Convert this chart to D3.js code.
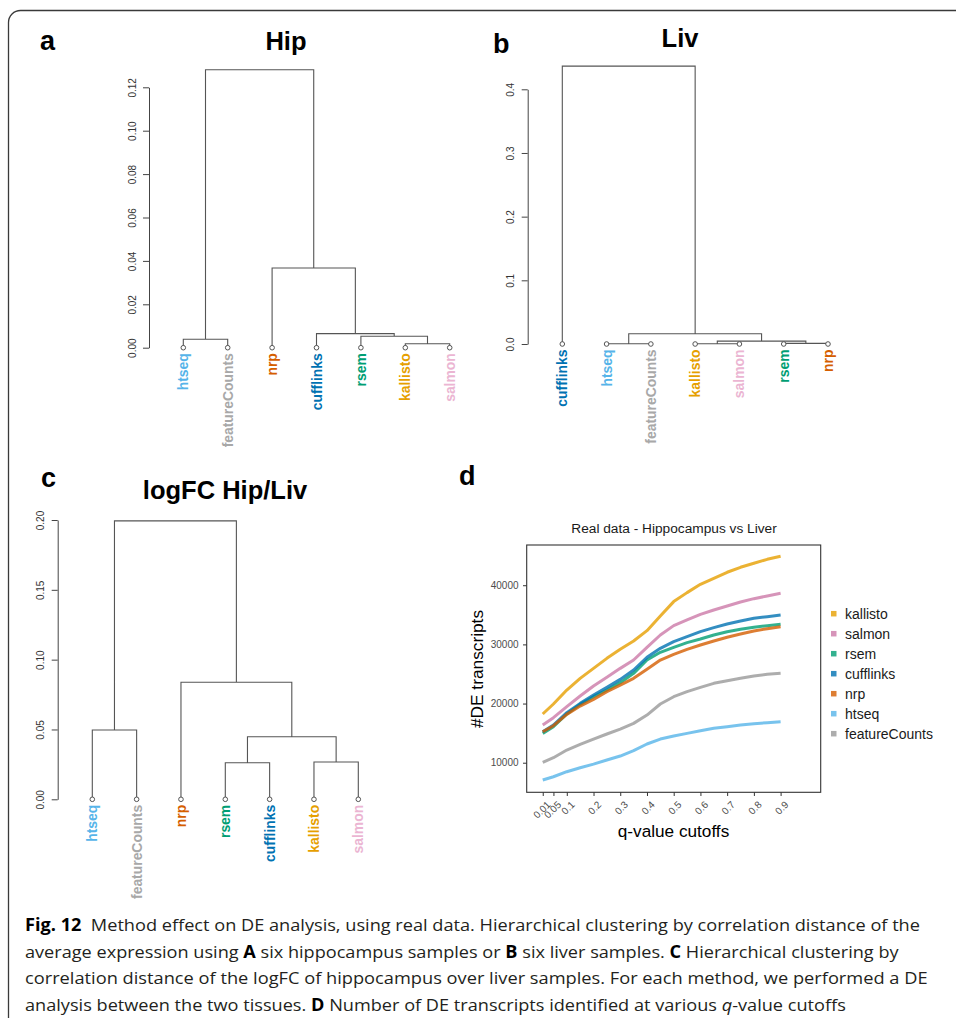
<!DOCTYPE html>
<html>
<head>
<meta charset="utf-8">
<script src="https://cdn.jsdelivr.net/npm/d3@7"></script>
<style>
  body { margin: 0; background: #fff; }
  svg text { font-family: "Liberation Sans", Arial, Helvetica, sans-serif; }
  svg .caption text { font-family: "Open Sans", "Noto Sans", sans-serif; white-space: pre; }
</style>
</head>
<body>
<svg id="fig" width="956" height="1018"></svg>
<script>

// methods, in legend order
var methods = ["kallisto", "salmon", "rsem", "cufflinks", "nrp", "htseq", "featureCounts"];
var lineColors = ["#E69F00", "#CC79A7", "#009E73", "#0072B2", "#D55E00", "#56B4E9", "#999999"];
var labelColors = ["#E69F00", "#EBB5D2", "#009E73", "#0072B2", "#D55E00", "#56B4E9", "#A8A8A8"];

// dendrograms: leaf order + merges [left, right, height]; a number points to an earlier merge
var hipLeaves = ["htseq", "featureCounts", "nrp", "cufflinks", "rsem", "kallisto", "salmon"];
var hipMerges = [
  ["htseq", "featureCounts", 0.0039],
  ["kallisto", "salmon", 0.0018],
  ["rsem", 1, 0.0053],
  ["cufflinks", 2, 0.0065],
  ["nrp", 3, 0.0367],
  [0, 4, 0.1281]
];
var hipTicks = [0, 0.02, 0.04, 0.06, 0.08, 0.10, 0.12];

var livLeaves = ["cufflinks", "htseq", "featureCounts", "kallisto", "salmon", "rsem", "nrp"];
var livMerges = [
  ["htseq", "featureCounts", 0.0004],
  ["kallisto", "salmon", 0.0005],
  ["rsem", "nrp", 0.0010],
  [1, 2, 0.0045],
  [0, 3, 0.0162],
  ["cufflinks", 4, 0.4364]
];
var livTicks = [0, 0.1, 0.2, 0.3, 0.4];

var fcLeaves = ["htseq", "featureCounts", "nrp", "rsem", "cufflinks", "kallisto", "salmon"];
var fcMerges = [
  ["htseq", "featureCounts", 0.0496],
  ["rsem", "cufflinks", 0.0262],
  ["kallisto", "salmon", 0.0267],
  [1, 2, 0.0448],
  ["nrp", 3, 0.0838],
  [0, 4, 0.1994]
];
var fcTicks = [0, 0.05, 0.10, 0.15, 0.20];

// panel d: number of DE transcripts per q-value cutoff
var qValues = [0.01, 0.05, 0.1, 0.15, 0.2, 0.25, 0.3, 0.35, 0.4, 0.45, 0.5, 0.55, 0.6, 0.65, 0.7, 0.75, 0.8, 0.85, 0.9];
var qTicks = [0.01, 0.05, 0.1, 0.2, 0.3, 0.4, 0.5, 0.6, 0.7, 0.8, 0.9];
var deTicks = [10000, 20000, 30000, 40000];

var kallistoDE = [18230, 19920, 22290, 24260, 25950, 27640, 29170, 30580, 32320, 34800, 37230, 38750, 40160, 41170, 42190, 43030, 43710, 44380, 44910];
var salmonDE   = [16370, 17610, 19470, 21270, 22970, 24430, 25950, 27360, 29500, 31590, 33170, 34130, 35080, 35820, 36490, 37170, 37730, 38190, 38640];
var rsemDE     = [14960, 16090, 18230, 19860, 21160, 22290, 23530, 25110, 27360, 28660, 29500, 30290, 30910, 31590, 32150, 32550, 32890, 33170, 33390];
var cuffDE     = [15240, 16370, 18460, 20030, 21440, 22740, 24090, 25670, 27810, 29330, 30460, 31310, 32150, 32830, 33450, 33960, 34410, 34690, 34970];
var nrpDE      = [15240, 16260, 18170, 19580, 20710, 22010, 23130, 24260, 25780, 27360, 28320, 29170, 29900, 30580, 31200, 31760, 32270, 32660, 33000];
var htseqDE    = [7070, 7630, 8480, 9150, 9770, 10450, 11130, 12030, 13160, 14000, 14510, 14960, 15410, 15810, 16090, 16370, 16600, 16760, 16930];
var fcountsDE  = [10060, 10850, 12140, 13100, 14000, 14850, 15690, 16650, 18060, 19920, 21160, 22010, 22740, 23420, 23870, 24260, 24660, 24940, 25110];
var deSeries = [kallistoDE, salmonDE, rsemDE, cuffDE, nrpDE, htseqDE, fcountsDE];

var captionLines = [
  [["Fig. 12", "b"], ["  Method effect on DE analysis, using real data. Hierarchical clustering by correlation distance of the", ""]],
  [["average expression using ", ""], ["A", "b"], [" six hippocampus samples or ", ""], ["B", "b"], [" six liver samples. ", ""], ["C", "b"], [" Hierarchical clustering by", ""]],
  [["correlation distance of the logFC of hippocampus over liver samples. For each method, we performed a DE", ""]],
  [["analysis between the two tissues. ", ""], ["D", "b"], [" Number of DE transcripts identified at various ", ""], ["q", "i"], ["-value cutoffs", ""]]
];


var svg = d3.select("#fig");
var labelColor = d3.scaleOrdinal().domain(methods).range(labelColors);
var lineColor = d3.scaleOrdinal().domain(methods).range(lineColors);

// outer frame (rounded top-left corner)
svg.append("path")
    .attr("d", "M8.5,1018V22.5A12,12 0 0 1 20.5,10.5H956")
    .attr("fill", "none")
    .attr("stroke", "#3a3a3a")
    .attr("stroke-width", 1.3);

function panel_letter(txt, x, y) {
    svg.append("text")
        .attr("x", x).attr("y", y)
        .attr("font-size", 27).attr("font-weight", "bold")
        .text(txt);
}

function draw_dendro(leaves, merges, ticks, p) {

    var x = d3.scaleLinear().domain([0, leaves.length - 1]).range([p.leafX0, p.leafX1]);
    var y = d3.scaleLinear().domain([0, ticks[ticks.length - 1]]).range([p.yBase, p.yTop]);

    var pos = {};
    leaves.forEach(function(d, i) { pos[d] = {x: x(i), h: 0}; });
    var nodes = [];
    var node = function(k) { return typeof k === "number" ? nodes[k] : pos[k]; };

    var path = d3.path();
    merges.forEach(function(m) {
        var a = node(m[0]), b = node(m[1]), h = m[2];
        path.moveTo(a.x, y(a.h)); path.lineTo(a.x, y(h));
        path.lineTo(b.x, y(h)); path.lineTo(b.x, y(b.h));
        nodes.push({x: (a.x + b.x) / 2, h: h});
    });

    var g = svg.append("g");

    g.append("path")
        .attr("d", path.toString())
        .attr("fill", "none")
        .attr("stroke", "#555")
        .attr("stroke-width", 1.1);

    g.selectAll(".leafdot")
        .data(leaves).enter()
        .append("circle")
            .attr("cx", function(d, i) { return x(i); })
            .attr("cy", y(0))
            .attr("r", 2.3)
            .attr("fill", "#fff")
            .attr("stroke", "#555")
            .attr("stroke-width", 1);

    g.selectAll(".leaflabel")
        .data(leaves).enter()
        .append("text")
            .attr("transform", function(d, i) { return "translate(" + x(i) + "," + (y(0) + 5.5) + ") rotate(-90)"; })
            .attr("text-anchor", "end")
            .attr("dy", "0.36em")
            .attr("font-size", 13.9)
            .attr("font-weight", "bold")
            .attr("fill", function(d) { return labelColor(d); })
            .text(function(d) { return d; });

    // y axis, R style: line only between first and last tick
    var y_axis = d3.axisLeft(y).tickValues(ticks).tickFormat(d3.format(p.fmt)).tickSize(6).tickSizeOuter(0);
    var ga = g.append("g")
        .attr("transform", "translate(" + p.axisX + ",0)")
        .call(y_axis);
    ga.selectAll("line, path").attr("stroke", "#444");
    ga.selectAll(".tick text")
        .attr("x", 0).attr("dy", 0)
        .attr("transform", "translate(-13.5,0) rotate(-90)")
        .attr("text-anchor", "middle")
        .attr("font-size", 10)
        .attr("fill", "#333");

    svg.append("text")
        .attr("x", p.titleX).attr("y", p.titleY)
        .attr("text-anchor", "middle")
        .attr("font-size", 25.5).attr("font-weight", "bold")
        .text(p.title);
}

panel_letter("a", 40, 50);
draw_dendro(hipLeaves, hipMerges, hipTicks,
    {leafX0: 183.3, leafX1: 449.7, yBase: 347.7, yTop: 87.3, axisX: 149, fmt: ".2f",
     title: "Hip", titleX: 286, titleY: 49.5});

panel_letter("b", 493, 53);
draw_dendro(livLeaves, livMerges, livTicks,
    {leafX0: 562.3, leafX1: 828, yBase: 344, yTop: 89.3, axisX: 527.7, fmt: ".1f",
     title: "Liv", titleX: 680, titleY: 47});

panel_letter("c", 41, 487);
draw_dendro(fcLeaves, fcMerges, fcTicks,
    {leafX0: 92.3, leafX1: 358.3, yBase: 799.3, yTop: 520, axisX: 57.7, fmt: ".2f",
     title: "logFC Hip/Liv", titleX: 225, titleY: 499});

// ---- panel d: line chart
panel_letter("d", 459, 485);

var xD = d3.scaleLinear().domain([-0.05, 1.05]).range([526.7, 820.7]);
var yD = d3.scaleLinear().domain([5000, 46800]).range([792.3, 545]);

var gd = svg.append("g");

gd.append("text")
    .attr("x", 674).attr("y", 532.5)
    .attr("text-anchor", "middle")
    .attr("font-size", 13.7)
    .attr("fill", "#1a1a1a")
    .text("Real data - Hippocampus vs Liver");

var line = d3.line()
    .x(function(d, i) { return xD(qValues[i]); })
    .y(function(d) { return yD(d); });

gd.selectAll(".deline")
    .data(deSeries).enter()
    .append("path")
        .attr("d", line)
        .attr("fill", "none")
        .attr("stroke", function(d, i) { return lineColor(methods[i]); })
        .attr("stroke-opacity", 0.8)
        .attr("stroke-width", 3)
        .attr("stroke-linejoin", "round");

gd.append("rect")
    .attr("x", xD.range()[0]).attr("y", yD.range()[1])
    .attr("width", xD.range()[1] - xD.range()[0])
    .attr("height", yD.range()[0] - yD.range()[1])
    .attr("fill", "none")
    .attr("stroke", "#333")
    .attr("stroke-width", 1.1);

var yAxisD = d3.axisLeft(yD).tickValues(deTicks).tickFormat(d3.format("d")).tickSize(3.7).tickPadding(4.5).tickSizeOuter(0);
var gy = gd.append("g")
    .attr("transform", "translate(" + xD.range()[0] + ",0)")
    .call(yAxisD);
gy.select(".domain").remove();
gy.selectAll("line").attr("stroke", "#333");
gy.selectAll("text").attr("font-size", 10).attr("fill", "#4D4D4D");

var xAxisD = d3.axisBottom(xD).tickValues(qTicks).tickFormat(function(d) { return String(d); }).tickSize(3.7).tickSizeOuter(0);
var gx = gd.append("g")
    .attr("transform", "translate(0," + yD.range()[0] + ")")
    .call(xAxisD);
gx.select(".domain").remove();
gx.selectAll("line").attr("stroke", "#333");
gx.selectAll("text")
    .attr("y", 0).attr("dy", "0.71em")
    .attr("transform", "translate(3,8) rotate(-45)")
    .attr("text-anchor", "end")
    .attr("font-size", 10)
    .attr("fill", "#4D4D4D");

gd.append("text")
    .attr("x", 673.5).attr("y", 836.5)
    .attr("text-anchor", "middle")
    .attr("font-size", 17.2)
    .text("q-value cutoffs");

gd.append("text")
    .attr("transform", "translate(482.5,669) rotate(-90)")
    .attr("text-anchor", "middle")
    .attr("font-size", 17.3)
    .text("#DE transcripts");

// legend
var legend = gd.selectAll(".legend")
    .data(methods).enter()
    .append("g")
        .attr("transform", function(d, i) { return "translate(831," + (613.7 + i * 20) + ")"; });

legend.append("rect")
    .attr("x", 0).attr("y", -2.75)
    .attr("width", 5.5).attr("height", 5.5)
    .attr("fill", function(d) { return lineColor(d); })
    .attr("fill-opacity", 0.8);

legend.append("text")
    .attr("x", 14).attr("dy", "0.36em")
    .attr("font-size", 14)
    .attr("fill", "#1a1a1a")
    .text(function(d) { return d; });

// ---- caption, each line stretched to its width in the original
var capBase = [931, 957.7, 984.2, 1010.5];
var capEnd = [921, 899, 928, 846];
var gc = svg.append("g").attr("class", "caption");

captionLines.forEach(function(parts, i) {
    var t = gc.append("text")
        .attr("x", 0).attr("y", 0)
        .attr("font-size", 17)
        .attr("fill", "#231F20");
    parts.forEach(function(p) {
        t.append("tspan")
            .attr("font-weight", p[1] === "b" ? "bold" : null)
            .attr("font-style", p[1] === "i" ? "italic" : null)
            .attr("fill", p[1] === "b" ? "#000" : null)
            .text(p[0]);
    });
    var w = t.node().getComputedTextLength();
    var k = (capEnd[i] - 25) / w;
    t.attr("transform", "translate(25," + capBase[i] + ") scale(" + k + ",1)");
});

</script>
</body>
</html>
